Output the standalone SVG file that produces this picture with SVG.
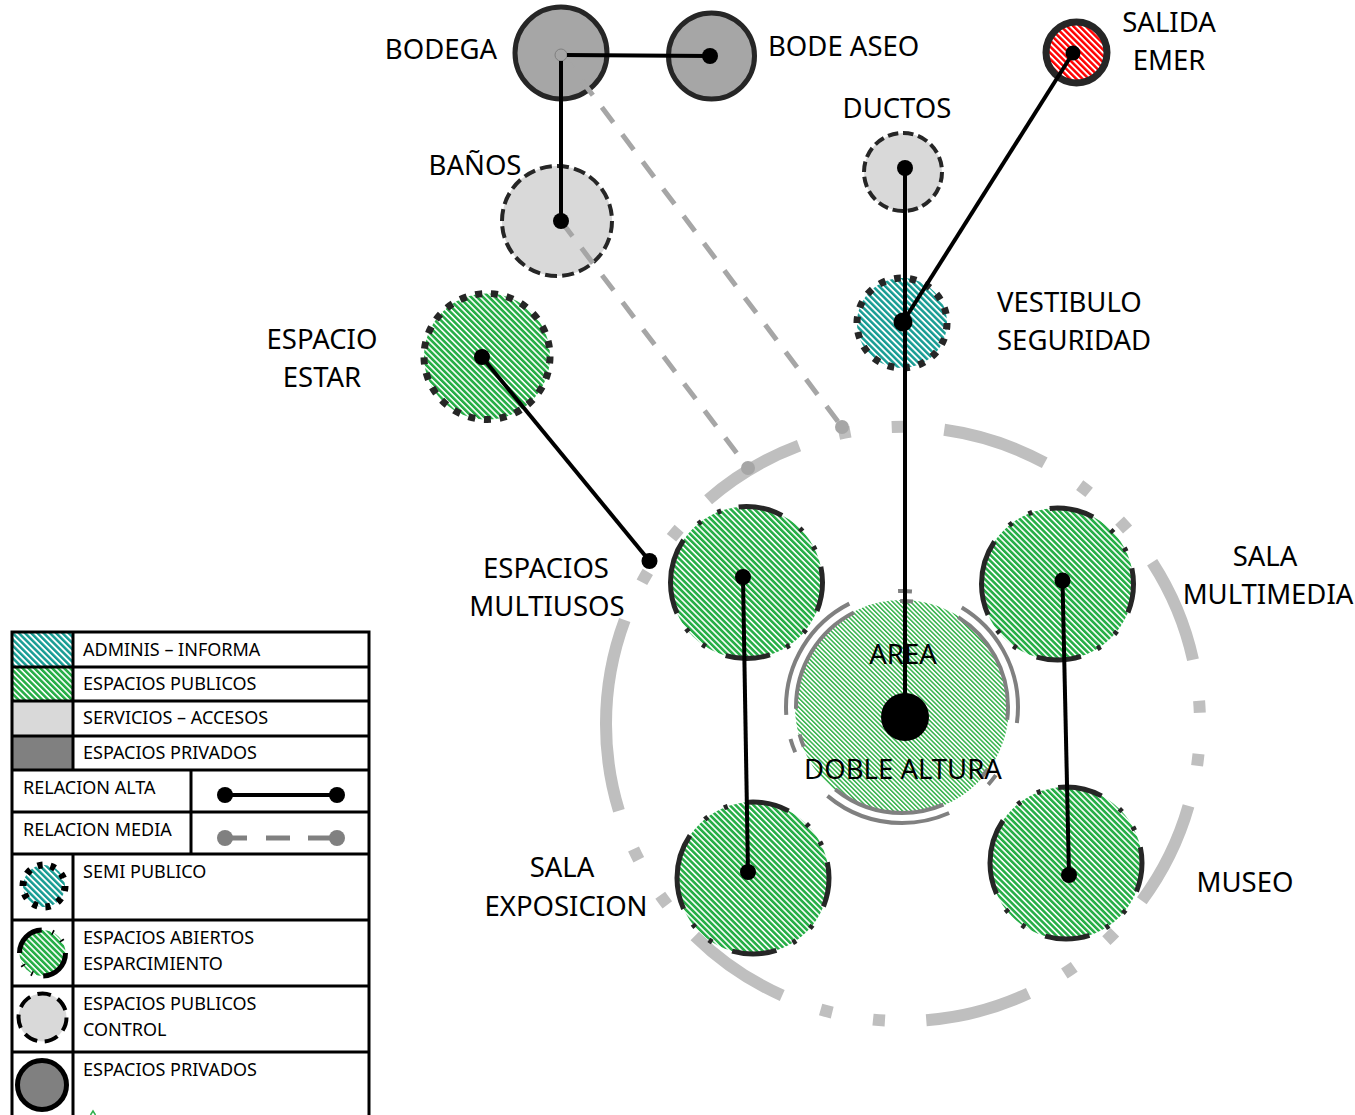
<svg xmlns="http://www.w3.org/2000/svg" width="1355" height="1115" viewBox="0 0 1355 1115">
<defs>
<pattern id="hG" patternUnits="userSpaceOnUse" width="4.2" height="4.2" patternTransform="rotate(-45)"><rect width="4.2" height="4.2" fill="#fff"/><rect width="2.6" height="4.2" fill="#27ae47"/></pattern>
<pattern id="hGf" patternUnits="userSpaceOnUse" width="3.2" height="3.2" patternTransform="rotate(-45)"><rect width="3.2" height="3.2" fill="#fff"/><rect width="1.5" height="3.2" fill="#35b24b"/></pattern>
<pattern id="hT" patternUnits="userSpaceOnUse" width="4.4" height="4.4" patternTransform="rotate(-45)"><rect width="4.4" height="4.4" fill="#fff"/><rect width="2.5" height="4.4" fill="#169c93"/></pattern>
<pattern id="hR" patternUnits="userSpaceOnUse" width="4.4" height="4.4" patternTransform="rotate(-45)"><rect width="4.4" height="4.4" fill="#fff"/><rect width="2.5" height="4.4" fill="#ff0000"/></pattern>
<style>
.lbl{font-family:"Noto Sans","Liberation Sans",sans-serif;font-size:27.5px;fill:#000}
.lg{font-family:"Noto Sans","Liberation Sans",sans-serif;font-size:18px;fill:#000}
.open{fill:url(#hG);stroke:#262626;stroke-width:5;stroke-dasharray:34 16.5 3 14 3 13.5}
.semi{stroke:#262626;stroke-width:7}
.ctrl{fill:#d9d9d9;stroke:#262626;stroke-width:4}
.priv{fill:#a6a6a6;stroke:#262626;stroke-width:5}
.hi{stroke:#000;stroke-width:4;fill:none}
.dot{fill:#000}
.med{stroke:#a6a6a6;stroke-width:5;stroke-dasharray:19 15;fill:none}
.mdot{fill:#a6a6a6}
.arc{fill:none;stroke:#808080;stroke-width:4}
.tb{stroke:#000;stroke-width:3;fill:none}
</style>
</defs>

<g id="zona-exterior">
<path d="M 606 724 A 297 297 0 1 1 1200 724 A 297 297 0 1 1 606 724" fill="none" stroke="#bfbfbf" stroke-width="12" pathLength="360" stroke-dasharray="20.5 8 2.3 8 2.3 7.9"/>
</g>

<g id="area-doble-altura">
<circle cx="902" cy="707" r="107" fill="url(#hGf)"/>
<circle cx="902" cy="707" r="116" class="arc" pathLength="360" stroke-dasharray="8 28 6 24 64 27 7 12 67 25 7 26 59"/>
<circle cx="902" cy="707" r="106" class="arc" pathLength="360" stroke-dasharray="7 29 6 25 62 29 7 14 64 26 7 26 59"/>
</g>

<g id="espacios-multiusos"><path class="open" d="M 670.5 582.5 A 76 76 0 1 1 822.5 582.5 A 76 76 0 1 1 670.5 582.5" pathLength="360"/></g>
<g id="sala-multimedia"><path class="open" d="M 981.5 584 A 76 76 0 1 1 1133.5 584 A 76 76 0 1 1 981.5 584" pathLength="360"/></g>
<g id="sala-exposicion"><path class="open" d="M 677 878 A 76 76 0 1 1 829 878 A 76 76 0 1 1 677 878" pathLength="360"/></g>
<g id="museo"><path class="open" d="M 990 863 A 76 76 0 1 1 1142 863 A 76 76 0 1 1 990 863" pathLength="360"/></g>

<g id="espacio-estar"><circle cx="487" cy="356.5" r="63" fill="url(#hG)" class="semi" pathLength="360" stroke-dasharray="6.4 8"/></g>
<g id="vestibulo-seguridad"><circle cx="902" cy="323" r="45" fill="url(#hT)" class="semi" pathLength="360" stroke-dasharray="8.5 11.5"/></g>
<g id="banos"><circle cx="557" cy="221" r="55" class="ctrl" pathLength="360" stroke-dasharray="12.5 5.5"/></g>
<g id="ductos"><circle cx="903" cy="172" r="39" class="ctrl" pathLength="360" stroke-dasharray="15.5 7"/></g>
<g id="bodega"><circle cx="561" cy="53" r="46" class="priv"/></g>
<g id="bode-aseo"><circle cx="711.5" cy="56" r="43" class="priv"/></g>
<g id="salida-emer"><circle cx="1076.5" cy="52.5" r="30.5" fill="url(#hR)" stroke="#262626" stroke-width="7"/></g>

<g id="conectores">
<line class="med" x1="561" y1="53" x2="842" y2="427"/>
<circle class="mdot" cx="842" cy="427" r="7"/>
<line class="med" x1="561" y1="221" x2="748" y2="468"/>
<circle class="mdot" cx="748" cy="468" r="7"/>
<circle cx="561" cy="55" r="6" fill="#a6a6a6" stroke="#808080" stroke-width="1"/>
<line class="hi" x1="567" y1="55" x2="710" y2="56"/>
<circle class="dot" cx="710" cy="56" r="8"/>
<line class="hi" x1="561" y1="61" x2="561" y2="221"/>
<circle class="dot" cx="561" cy="221" r="8"/>
<line class="hi" x1="905" y1="168" x2="905" y2="717"/>
<circle class="dot" cx="905" cy="168" r="8"/>
<line class="hi" x1="1073" y1="53" x2="903" y2="322"/>
<circle class="dot" cx="1073" cy="53" r="7.5"/>
<circle class="dot" cx="903" cy="322" r="9.5"/>
<circle class="dot" cx="905" cy="717" r="24"/>
<line class="hi" x1="482" y1="357" x2="649.5" y2="561"/>
<circle class="dot" cx="482" cy="357" r="8"/>
<circle class="dot" cx="649.5" cy="561" r="8"/>
<line class="hi" x1="743" y1="577" x2="748" y2="872"/>
<circle class="dot" cx="743" cy="577" r="8"/>
<circle class="dot" cx="748" cy="872" r="8"/>
<line class="hi" x1="1062.5" y1="580.5" x2="1069" y2="875"/>
<circle class="dot" cx="1062.5" cy="580.5" r="8"/>
<circle class="dot" cx="1069" cy="875" r="8"/>
</g>

<g id="etiquetas">
<text class="lbl" x="441" y="59" text-anchor="middle">BODEGA</text>
<text class="lbl" x="768" y="56">BODE ASEO</text>
<text class="lbl" x="1169" y="32" text-anchor="middle">SALIDA</text>
<text class="lbl" x="1169" y="70" text-anchor="middle">EMER</text>
<text class="lbl" x="897" y="118" text-anchor="middle">DUCTOS</text>
<text class="lbl" x="475" y="175" text-anchor="middle">BAÑOS</text>
<text class="lbl" x="997" y="312">VESTIBULO</text>
<text class="lbl" x="997" y="350">SEGURIDAD</text>
<text class="lbl" x="322" y="349" text-anchor="middle">ESPACIO</text>
<text class="lbl" x="322" y="387" text-anchor="middle">ESTAR</text>
<text class="lbl" x="546" y="578" text-anchor="middle">ESPACIOS</text>
<text class="lbl" x="547" y="616" text-anchor="middle">MULTIUSOS</text>
<text class="lbl" x="1265" y="566" text-anchor="middle">SALA</text>
<text class="lbl" x="1268" y="604" text-anchor="middle">MULTIMEDIA</text>
<text class="lbl" x="903" y="664" text-anchor="middle">AREA</text>
<text class="lbl" x="903" y="779" text-anchor="middle">DOBLE ALTURA</text>
<text class="lbl" x="562" y="877" text-anchor="middle">SALA</text>
<text class="lbl" x="566" y="916" text-anchor="middle">EXPOSICION</text>
<text class="lbl" x="1245" y="892" text-anchor="middle">MUSEO</text>
</g>

<g id="leyenda">
<rect x="12" y="632" width="61" height="35" fill="url(#hT)"/>
<rect x="12" y="667" width="61" height="34" fill="url(#hG)"/>
<rect x="12" y="701" width="61" height="35" fill="#d9d9d9"/>
<rect x="12" y="736" width="61" height="34" fill="#808080"/>
<rect class="tb" x="12" y="632" width="357" height="500"/>
<line class="tb" x1="12" y1="667" x2="369" y2="667"/>
<line class="tb" x1="12" y1="701" x2="369" y2="701"/>
<line class="tb" x1="12" y1="736" x2="369" y2="736"/>
<line class="tb" x1="12" y1="770" x2="369" y2="770"/>
<line class="tb" x1="12" y1="812" x2="369" y2="812"/>
<line class="tb" x1="12" y1="854" x2="369" y2="854"/>
<line class="tb" x1="12" y1="920" x2="369" y2="920"/>
<line class="tb" x1="12" y1="986" x2="369" y2="986"/>
<line class="tb" x1="12" y1="1052" x2="369" y2="1052"/>
<line class="tb" x1="73" y1="632" x2="73" y2="770"/>
<line class="tb" x1="73" y1="854" x2="73" y2="1115"/>
<line class="tb" x1="191" y1="770" x2="191" y2="854"/>
<line x1="225" y1="795" x2="337" y2="795" stroke="#000" stroke-width="4"/>
<circle cx="225" cy="795" r="8" fill="#000"/>
<circle cx="337" cy="795" r="8" fill="#000"/>
<g stroke="#808080" stroke-width="5"><line x1="225" y1="838" x2="247" y2="838"/><line x1="266" y1="838" x2="290" y2="838"/><line x1="308" y1="838" x2="337" y2="838"/></g>
<circle cx="225" cy="838" r="8" fill="#808080"/>
<circle cx="337" cy="838" r="8" fill="#808080"/>
<circle cx="44" cy="886" r="21" fill="url(#hT)" stroke="#000" stroke-width="7" pathLength="360" stroke-dasharray="14 22"/>
<path d="M 19.5 953 A 23 23 0 1 1 65.5 953 A 23 23 0 1 1 19.5 953" fill="url(#hG)" stroke="#000" stroke-width="5" pathLength="360" stroke-dasharray="88 27 4 26 4 31"/>
<circle cx="42.5" cy="1017.5" r="24" fill="#d9d9d9" stroke="#000" stroke-width="4" pathLength="360" stroke-dasharray="33 18.5"/>
<circle cx="42" cy="1085" r="24.5" fill="#808080" stroke="#000" stroke-width="5"/>
<polyline points="90.5,1115 93,1111 95.5,1115" fill="none" stroke="#2eb04b" stroke-width="1.5"/>
<text class="lg" x="83" y="656">ADMINIS – INFORMA</text>
<text class="lg" x="83" y="690">ESPACIOS PUBLICOS</text>
<text class="lg" x="83" y="724">SERVICIOS – ACCESOS</text>
<text class="lg" x="83" y="759">ESPACIOS PRIVADOS</text>
<text class="lg" x="23" y="794">RELACION ALTA</text>
<text class="lg" x="23" y="836">RELACION MEDIA</text>
<text class="lg" x="83" y="878">SEMI PUBLICO</text>
<text class="lg" x="83" y="944">ESPACIOS ABIERTOS</text>
<text class="lg" x="83" y="970">ESPARCIMIENTO</text>
<text class="lg" x="83" y="1010">ESPACIOS PUBLICOS</text>
<text class="lg" x="83" y="1036">CONTROL</text>
<text class="lg" x="83" y="1076">ESPACIOS PRIVADOS</text>
</g>
</svg>
